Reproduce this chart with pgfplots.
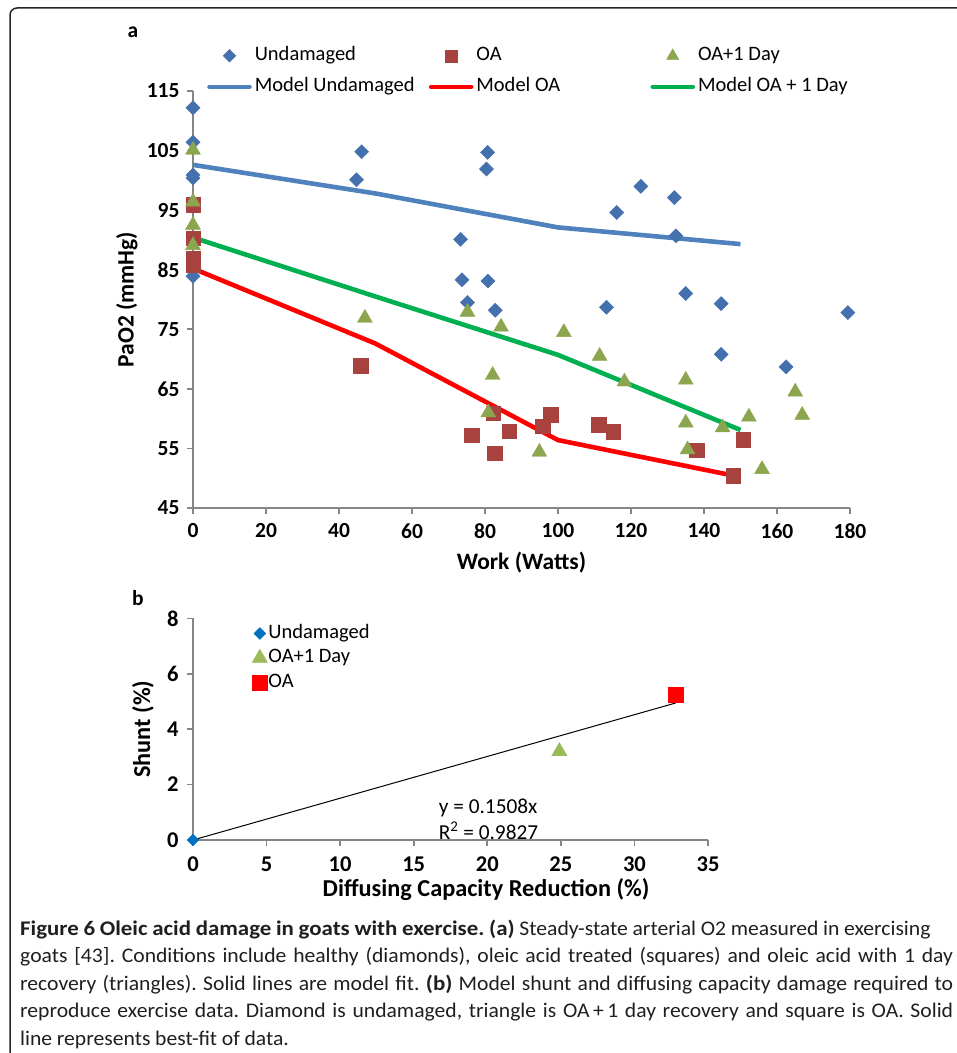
\documentclass[border=0pt]{standalone}
\usepackage{fontspec}
\setmainfont{Carlito}
\newfontfamily\capfont[FakeStretch=1.04]{Carlito}
\newfontfamily\capbold[FakeStretch=1.10]{Carlito}
\usepackage{xcolor}
\usepackage{tikz}
\usepackage{pgfplots}
\pgfplotsset{compat=1.18}

\definecolor{undam}{HTML}{4471AD}
\definecolor{oasq}{HTML}{A8423F}
\definecolor{oatri}{HTML}{8BA64F}
\definecolor{mundam}{HTML}{4F81BD}
\definecolor{mred}{HTML}{FF0000}
\definecolor{mgreen}{HTML}{00B050}
\definecolor{axgray}{HTML}{868686}
\definecolor{bblue}{HTML}{0070C0}
\definecolor{bgreen}{HTML}{9BBB59}

\newcommand\ticklab{\bfseries\fontsize{21.5}{25}\selectfont}
\newcommand\labfont{\bfseries\fontsize{23.5}{27}\selectfont}
\newcommand\legfont{\fontsize{20.5}{24}\selectfont}
\newcommand\capb[1]{{\capbold\bfseries #1}}
\newcommand\capsp{\frenchspacing\spaceskip=0.226em plus 0.5em minus 0.08em\relax}

\pgfplotsset{
  excel/.style={
    scale only axis, clip=false,
    axis x line*=bottom, axis y line*=left,
    axis line style={draw=axgray, line width=1.6pt, -},
    tick style={draw=axgray, line width=1.6pt},
    tick align=outside, major tick length=6pt,
    ticklabel style={font=\ticklab},
    /pgf/number format/assume math mode=true,
    label style={font=\labfont, anchor=center},
  },
  markleg/.style={legend image code/.code={
    \path (0pt,0pt) (44pt,0pt);
    \draw[##1, mark size=#1] plot coordinates {(22pt,0pt)};}},
  lineleg/.style={legend image code/.code={
    \path (0pt,0pt) (44pt,0pt);
    \draw[##1, line cap=round] (2pt,0pt) -- (42pt,0pt);}},
  smallleg/.style={legend image code/.code={
    \path (0pt,0pt) (14pt,0pt);
    \draw[##1] plot coordinates {(7pt,0pt)};}},
}

\begin{document}
\begin{tikzpicture}[x=1pt,y=1pt]
\useasboundingbox (0,0) rectangle (957,1053);
\draw[line width=1.5pt, black!85] (10,0) -- (10,1038) arc[start angle=180, end angle=90, radius=7] -- (957,1045);

% panel a
\node[font=\bfseries\fontsize{21.5}{25}\selectfont] at (133,1021) {a};
\begin{axis}[excel,
  at={(193pt,545pt)}, anchor=south west,
  width=657pt, height=417pt,
  xmin=0, xmax=180, ymin=45, ymax=115,
  xtick={0,20,...,180}, ytick={45,55,...,115},
  yticklabel style={xshift=-4pt},
  xticklabel style={yshift=-6pt},
  xlabel={Work (Watts)}, ylabel={PaO2 (mmHg)},
  xlabel style={at={(axis description cs:0.5,-0.1319)}},
  ylabel style={at={(axis description cs:-0.1005,0.5)}},
  legend columns=3, legend cell align=left,
  legend style={draw=none, fill=none, inner sep=0pt, font=\legfont,
    at={(0.0183,1.110)}, anchor=north west,
    /tikz/column sep=0pt, /tikz/row sep=10pt,
    nodes={inner sep=1pt, text height=14pt, text depth=5pt}},
]
\addplot[mundam, line width=4.6pt, forget plot] coordinates {(0,102.6) (50,97.8) (100,92.1) (150,89.3)};
\addplot[mred, line width=4.6pt, forget plot] coordinates {(0,85.2) (50,72.6) (100,56.4) (150,50.2)};
\addplot[mgreen, line width=4.6pt, forget plot] coordinates {(0,90.4) (50,80.5) (100,70.7) (150,58.1)};

\addplot[only marks, mark=square*, mark size=5pt, mark options={rotate=45, fill=undam, draw=undam},
  markleg=4.5pt] coordinates {
  (0,112.2) (0,106.4) (0,100.9) (0,100.4) (0,83.9) (46.2,104.8) (44.8,100.1)
  (80.7,104.7) (80.4,101.9) (73.3,90.1) (73.7,83.3) (80.8,83.1) (75.2,79.5)
  (82.8,78.2) (116.1,94.6) (122.7,99.0) (131.9,97.1) (132.3,90.7) (113.3,78.7)
  (135,81.0) (144.7,79.3) (144.7,70.8) (162.5,68.7) (179.4,77.8)};
\addlegendentry{\makebox[171pt][l]{Undamaged}}
\addplot[only marks, mark=square*, mark size=7.3pt, mark options={fill=oasq, draw=oasq},
  markleg=6pt] coordinates {
  (0,95.9) (0,90.3) (0,86.9) (0,85.8) (45.9,68.9) (82.3,60.9) (76.4,57.2)
  (86.6,57.9) (82.6,54.2) (95.8,58.7) (98.0,60.7) (111.2,59.0) (115.1,57.8)
  (138.0,54.7) (150.7,56.5) (148.0,50.4)};
\addlegendentry{\makebox[171pt][l]{OA}}
\addplot[only marks, mark=triangle*, mark size=8.6pt, mark options={fill=oatri, draw=oatri},
  markleg=7pt] coordinates {
  (0,105.1) (0,96.4) (0,92.5) (0,89.1) (47.1,76.9) (75.2,77.9) (84.4,75.4)
  (82.1,67.3) (80.9,61.0) (101.6,74.5) (111.4,70.5) (118.2,66.2) (94.9,54.4)
  (135,66.5) (135,59.3) (135.5,54.8) (145.1,58.5) (152.3,60.3) (155.9,51.5)
  (165.0,64.5) (166.9,60.6)};
\addlegendentry{\makebox[171pt][l]{OA+1 Day}}

\addlegendimage{mundam, line width=4.6pt, lineleg}
\addlegendentry{\makebox[171pt][l]{Model Undamaged}}
\addlegendimage{mred, line width=4.6pt, lineleg}
\addlegendentry{\makebox[171pt][l]{Model OA}}
\addlegendimage{mgreen, line width=4.6pt, lineleg}
\addlegendentry{\makebox[171pt][l]{Model OA + 1 Day}}
\end{axis}

% panel b
\node[font=\bfseries\fontsize{21.5}{25}\selectfont] at (138,455) {b};
\begin{axis}[excel,
  at={(193pt,213pt)}, anchor=south west,
  width=515pt, height=221.6pt,
  xmin=0, xmax=35, ymin=0, ymax=8,
  xtick={0,5,...,35}, ytick={0,2,...,8},
  ticklabel style={font=\bfseries\fontsize{22.5}{26}\selectfont},
  yticklabel style={xshift=-5pt},
  xticklabel style={yshift=-7pt},
  xlabel={Diffusing Capacity Reduction (\%)}, ylabel={Shunt (\%)},
  label style={font=\bfseries\fontsize{24.3}{28}\selectfont},
  xlabel style={at={(axis description cs:0.569,-0.2256)}},
  ylabel style={at={(axis description cs:-0.0971,0.5)}},
  legend cell align=left,
  legend style={draw=none, fill=none, inner sep=0pt,
    font=\fontsize{20.5}{24}\selectfont,
    at={(0.1146,0.979)}, anchor=north west,
    /tikz/column sep=0pt, /tikz/row sep=4pt,
    nodes={inner sep=1pt, text height=14pt, text depth=4.5pt}},
]
\addplot[black, line width=1pt, forget plot] coordinates {(0,0) (32.8,4.946)};
\addplot[only marks, mark=square*, mark size=4.2pt, mark options={rotate=45, fill=bblue, draw=bblue},
  smallleg] coordinates {(0,0)};
\addlegendentry{Undamaged}
\addplot[only marks, mark=triangle*, mark size=8.8pt, mark options={fill=bgreen, draw=bgreen},
  smallleg] coordinates {(24.9,3.2)};
\addlegendentry{OA+1 Day}
\addplot[only marks, mark=square*, mark size=7.4pt, mark options={fill=mred, draw=mred},
  smallleg] coordinates {(32.8,5.25)};
\addlegendentry{OA}
\node[anchor=west, font=\fontsize{21.3}{25}\selectfont, inner sep=0pt] at (axis cs:16.7,1.17) {y = 0.1508x};
\node[anchor=west, font=\fontsize{21.3}{25}\selectfont, inner sep=0pt] at (axis cs:16.7,0.33) {R\textsuperscript{2} = 0.9827};
\end{axis}

% caption, one node per line
\begin{scope}[every node/.style={anchor=base west, inner sep=0pt,
    font=\capfont\fontsize{20.8}{25}\selectfont\capsp, text=black!88}]
\node at (20,117) {\capb{Figure 6 Oleic acid damage in goats with exercise. (a)} Steady-state arterial O2 measured in exercising};
\node at (20,90) {\hbox to 933pt{goats [43]. Conditions include healthy (diamonds), oleic acid treated (squares) and oleic acid with 1 day}};
\node at (20,62) {\hbox to 933pt{recovery (triangles). Solid lines are model fit. \capb{(b)} Model shunt and diffusing capacity damage required to}};
\node at (20,35) {\hbox to 933pt{reproduce exercise data. Diamond is undamaged, triangle is OA\,+\,1 day recovery and square is OA. Solid}};
\node at (20,8) {line represents best-fit of data.};
\end{scope}
\end{tikzpicture}
\end{document}
